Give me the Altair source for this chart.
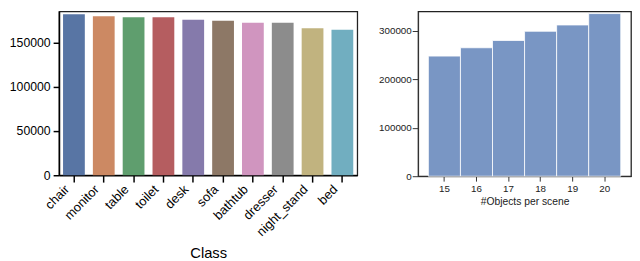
import colorsys
import altair as alt
import pandas as pd

classes = ["chair", "monitor", "table", "toilet", "desk", "sofa",
           "bathtub", "dresser", "night_stand", "bed"]
class_counts = [181700, 179500, 178500, 178400, 175500, 174400,
                172200, 172100, 166000, 164200]

objects_per_scene = ["15", "16", "17", "18", "19", "20"]
scene_counts = [247800, 265000, 280000, 299000, 312000, 335500]

deep = ["#4C72B0", "#DD8452", "#55A868", "#C44E52", "#8172B3",
        "#937860", "#DA8BC3", "#8C8C8C", "#CCB974", "#64B5CD"]


def desat(hexc, f=0.75):
    r, g, b = (int(hexc[i:i + 2], 16) / 255 for i in (1, 3, 5))
    h, l, s = colorsys.rgb_to_hls(r, g, b)
    r, g, b = colorsys.hls_to_rgb(h, l, s * f)
    return "#%02x%02x%02x" % tuple(round(v * 255) for v in (r, g, b))


palette = [desat(c) for c in deep]

df1 = pd.DataFrame({"Class": classes, "count": class_counts})
df2 = pd.DataFrame({"n": objects_per_scene, "count": scene_counts})

FONT = "Liberation Sans"

left = alt.Chart(df1).mark_bar().encode(
    x=alt.X("Class:N", sort=None,
            scale=alt.Scale(paddingInner=0.27, paddingOuter=0.135),
            axis=alt.Axis(labelAngle=-45, labelAlign="right",
                          labelBaseline="bottom", labelFontSize=13,
                          labelFont=FONT, labelColor="black", tickSize=7,
                          tickWidth=1.5, tickColor="black",
                          domainColor="black", domainWidth=1.5,
                          labelPadding=10, labelOffset=-2,
                          title="Class", titleFont=FONT, titleFontSize=15,
                          titleFontWeight="normal", titleColor="black",
                          titlePadding=7)),
    y=alt.Y("count:Q", scale=alt.Scale(domain=[0, 185000], nice=False),
            axis=alt.Axis(values=[0, 50000, 100000, 150000], grid=False,
                          format="d",
                          labelFontSize=12.5, labelFont=FONT,
                          labelColor="black",
                          tickSize=6, tickWidth=1.5, tickColor="black",
                          domainColor="black", domainWidth=1.5,
                          labelPadding=3, title=None)),
    color=alt.Color("Class:N", sort=None,
                    scale=alt.Scale(domain=classes, range=palette),
                    legend=None),
).properties(width=304, height=167)

right = alt.Chart(df2).mark_bar(color="#7996C4", stroke="white",
                                 strokeWidth=0.8).encode(
    x=alt.X("n:N", sort=None,
            scale=alt.Scale(paddingInner=0.0, paddingOuter=0.32),
            axis=alt.Axis(labelAngle=0, labelFontSize=10, labelFont=FONT,
                          labelColor="#222", tickSize=5, tickColor="#333",
                          domainColor="#333", labelPadding=3,
                          title="#Objects per scene", titleFont=FONT,
                          titleFontSize=10.5, titleFontWeight="normal",
                          titleColor="#222", titlePadding=3)),
    y=alt.Y("count:Q", scale=alt.Scale(domain=[0, 340000], nice=False),
            axis=alt.Axis(values=[0, 100000, 200000, 300000], grid=False,
                          format="d",
                          labelFontSize=10, labelFont=FONT, labelColor="#222",
                          tickSize=6, tickColor="#333", domainColor="#333",
                          labelPadding=1, title=None)),
).properties(width=217, height=168)

chart = alt.hconcat(left, right, spacing=19).properties(
    padding={"left": 0, "top": 0, "right": 0, "bottom": 0}
).configure_view(stroke="#222", strokeWidth=1.3)

chart.save("out.html", embed_options={"renderer": "svg", "actions": False})
